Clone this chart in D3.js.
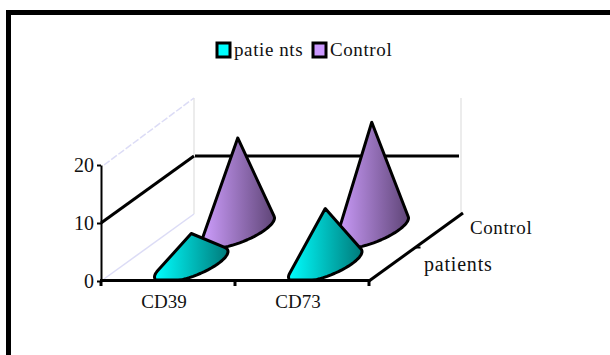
<!DOCTYPE html>
<html>
<head>
<meta charset="utf-8">
<title>CD39 CD73</title>
<script src="https://cdn.jsdelivr.net/npm/d3@7"></script>
<style>
  body { margin: 0; background: #fff; }
  text { font-family: "Liberation Serif", serif; fill: #111; }
  .axis path, .axis line { stroke: #000; }
</style>
</head>
<body>
<div id="chart-area"></div>
<script>
const categories = ["CD39", "CD73"]
const seriesNames = ["patients", "Control"]
const legendLabels = ["patie nts", "Control"]
const patients = [5.3, 9.6]
const control = [16, 18.7]
const yTickValues = [0, 10, 20]

const WIDTH = 610
const HEIGHT = 355
const PLOT = { LEFT: 101, RIGHT: 369, TOP: 165, BOTTOM: 281 }
// Offset of the back wall from the front of the box
const DEPTH = { X: 93, Y: -67 }

const svg = d3.select("#chart-area").append("svg")
  .attr("width", WIDTH)
  .attr("height", HEIGHT)
  .style("display", "block")

// Scales
const x = d3.scaleBand().domain(categories).range([PLOT.LEFT, PLOT.RIGHT])
const y = d3.scaleLinear().domain([0, 20]).range([PLOT.BOTTOM, PLOT.TOP])
const z = d3.scaleBand().domain(seriesNames).range([0, 1])

// Gradients for the cones
const defs = svg.append("defs")
const makeGradient = (id, from, to) => {
  const grad = defs.append("linearGradient").attr("id", id)
  grad.append("stop").attr("offset", "0%").attr("stop-color", from)
  grad.append("stop").attr("offset", "100%").attr("stop-color", to)
}
makeGradient("grad-patients", "#00ffff", "#007a7a")
makeGradient("grad-control", "#cf9fff", "#5f4577")

// Frame, only top and left are visible
svg.append("path")
  .attr("d", `M8.5,${HEIGHT} V12.5 H${WIDTH}`)
  .attr("fill", "none")
  .attr("stroke", "#000")
  .attr("stroke-width", 5)

const back = (px, py) => [px + DEPTH.X, py + DEPTH.Y]
const line = (p1, p2) => svg.append("line")
  .attr("x1", p1[0]).attr("y1", p1[1])
  .attr("x2", p2[0]).attr("y2", p2[1])

// Faint walls
const wallColor = "#e6e6e6"
const sideColor = "#dcdcf6"
line(back(PLOT.LEFT, y(20)), back(PLOT.LEFT, y(0))).attr("stroke", wallColor).attr("stroke-width", 1.5)
line(back(PLOT.RIGHT - 1, y(20)), back(PLOT.RIGHT - 1, y(0) + 1)).attr("stroke", wallColor).attr("stroke-width", 1.5)
line([PLOT.LEFT + 3, y(20)], back(PLOT.LEFT, y(20))).attr("stroke", sideColor).attr("stroke-width", 1.5).attr("stroke-dasharray", "7 2")
line([PLOT.LEFT + 3, y(0) - 2], back(PLOT.LEFT, y(0))).attr("stroke", sideColor).attr("stroke-width", 1.5)

// Gridline at 10, along the side wall and the back wall
line([PLOT.LEFT, y(10)], back(PLOT.LEFT, y(10))).attr("stroke", "#000").attr("stroke-width", 3)
line(back(PLOT.LEFT + 1, y(10)), back(PLOT.RIGHT - 3, y(10))).attr("stroke", "#000").attr("stroke-width", 3)

// Floor edge on the right with the depth tick
line([PLOT.RIGHT, PLOT.BOTTOM], back(PLOT.RIGHT + 1, PLOT.BOTTOM - 1)).attr("stroke", "#000").attr("stroke-width", 3)
const midDepth = [PLOT.RIGHT + DEPTH.X * z.step(), PLOT.BOTTOM + DEPTH.Y * z.step()]
line(midDepth, [midDepth[0] + 5, midDepth[1]]).attr("stroke", "#000").attr("stroke-width", 2)

// Y axis
const yAxis = svg.append("g")
  .attr("class", "axis")
  .attr("transform", `translate(${PLOT.LEFT}, 0)`)
  .call(d3.axisLeft(y).tickValues(yTickValues).tickSize(4).tickPadding(3).tickSizeOuter(0))
yAxis.select(".domain").attr("stroke", "#555").attr("stroke-width", 2)
yAxis.selectAll("line").attr("stroke-width", 2)
yAxis.selectAll("text").attr("font-size", 20).attr("font-family", "Liberation Serif")

// X axis, ticks sit between the categories
const xAxis = svg.append("g")
  .attr("class", "axis")
  .attr("transform", `translate(-4, ${PLOT.BOTTOM})`)
  .call(d3.axisBottom(x).tickSize(0).tickPadding(14))
xAxis.select(".domain").remove()
xAxis.selectAll("text").attr("font-size", 19).attr("font-family", "Liberation Serif")

line([PLOT.LEFT - 1, PLOT.BOTTOM - 0.5], [PLOT.RIGHT + 1, PLOT.BOTTOM - 0.5]).attr("stroke", "#000").attr("stroke-width", 3)
categories.concat(null).forEach((c, i) => {
  const tx = PLOT.LEFT + i * x.step()
  line([tx, PLOT.BOTTOM], [tx, PLOT.BOTTOM + 5]).attr("stroke", "#000").attr("stroke-width", 3)
})

// Depth labels
const depthLabels = svg.append("g")
depthLabels.append("text").attr("x", 424).attr("y", 271)
  .attr("font-size", 20).attr("letter-spacing", 0.8).text(seriesNames[0])
depthLabels.append("text").attr("x", 470).attr("y", 234)
  .attr("font-size", 19).attr("letter-spacing", 0.6).text(seriesNames[1])

// Cones: ellipse on the floor plus the apex, outline from the hull.
// The ellipse is cut off where it would pass the front of the floor.
const coneOutline = (category, name, value) => {
  const cx = x(category) + x.bandwidth() / 2 + DEPTH.X * (z(name) + z.bandwidth() / 2)
  const cy = PLOT.BOTTOM + DEPTH.Y * (z(name) + z.bandwidth() / 2)
  const pts = d3.range(0, 360, 6).map(a => {
    const t = a * Math.PI / 180
    return [
      cx + 26 * Math.cos(t) + 26 * Math.sin(t),
      Math.min(cy - 18 * Math.sin(t), PLOT.BOTTOM - 1)
    ]
  })
  pts.push([cx, cy - (PLOT.BOTTOM - y(value))])
  return d3.polygonHull(pts)
}

const drawCones = (name, values, gradId) => {
  svg.append("g").selectAll("path")
    .data(categories)
    .enter().append("path")
    .attr("d", (d, i) => "M" + coneOutline(d, name, values[i]).join("L") + "Z")
    .attr("fill", `url(#${gradId})`)
    .attr("stroke", "#000")
    .attr("stroke-width", 3)
    .attr("stroke-linejoin", "round")
}
drawCones(seriesNames[1], control, "grad-control")
drawCones(seriesNames[0], patients, "grad-patients")

// Legend
const legendX = [217, 313]
const legendColors = ["#00ffff", "#cc99ff"]
const legend = svg.append("g").selectAll("g")
  .data(legendLabels)
  .enter().append("g")
  .attr("transform", (d, i) => `translate(${legendX[i]}, 43)`)
legend.append("rect")
  .attr("width", 13).attr("height", 14)
  .attr("fill", (d, i) => legendColors[i])
  .attr("stroke", "#000").attr("stroke-width", 3)
legend.append("text")
  .attr("x", 17).attr("y", 13)
  .attr("font-size", 19).attr("letter-spacing", 0.6)
  .text(d => d)
</script>
</body>
</html>
